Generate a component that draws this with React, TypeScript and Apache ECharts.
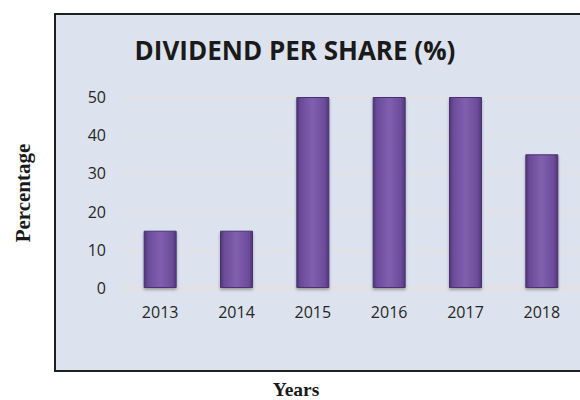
import React, { useEffect, useRef } from "react";
import * as echarts from "echarts";

const years = ["2013", "2014", "2015", "2016", "2017", "2018"];
const dividend = [15, 15, 50, 50, 50, 35];
const yTicks = { min: 0, max: 50, interval: 10 };
const titleText = "DIVIDEND PER SHARE (%)";
const xName = "Years";
const yName = "Percentage";

export default function App() {
  const ref = useRef<HTMLDivElement>(null);
  useEffect(() => {
    if (!ref.current) return;
    const chart = echarts.init(ref.current, null, { renderer: "svg" });
    const barGradient = new echarts.graphic.LinearGradient(0, 0, 1, 0, [
      { offset: 0, color: "#4f3678" },
      { offset: 0.12, color: "#6b4b9a" },
      { offset: 0.5, color: "#8060ae" },
      { offset: 0.88, color: "#6b4b9a" },
      { offset: 1, color: "#4f3678" },
    ]);
    chart.setOption({
      animation: false,
      backgroundColor: "#ffffff",
      graphic: [
        {
          type: "rect",
          z: -10,
          shape: { x: 55, y: 14, width: 540, height: 357 },
          style: { fill: "#dce3ee", stroke: "#1e1e1e", lineWidth: 2 },
        },
        {
          type: "text",
          x: 295,
          y: 50,
          style: {
            text: titleText,
            font: "bold 26px 'Open Sans'",
            fill: "#1a1a1a",
            textAlign: "center",
            textVerticalAlign: "middle",
          },
        },
        {
          type: "text",
          x: 296,
          y: 389,
          style: {
            text: xName,
            font: "bold 19.5px 'Liberation Serif'",
            fill: "#1a1a1a",
            textAlign: "center",
            textVerticalAlign: "middle",
          },
        },
        {
          type: "text",
          x: 23,
          y: 193,
          rotation: Math.PI / 2,
          style: {
            text: yName,
            font: "bold 21px 'Liberation Serif'",
            fill: "#1a1a1a",
            textAlign: "center",
            textVerticalAlign: "middle",
          },
        },
      ],
      grid: { left: 122, top: 97, width: 468, height: 191, containLabel: false },
      xAxis: {
        type: "category",
        data: years,
        axisLine: { show: true, lineStyle: { color: "#e8e0d4", width: 2 } },
        axisTick: { show: false },
        axisLabel: {
          color: "#262626",
          fontSize: 16,
          fontFamily: "Open Sans",
          margin: 16,
        },
      },
      yAxis: {
        type: "value",
        min: yTicks.min,
        max: yTicks.max,
        interval: yTicks.interval,
        axisLine: { show: false },
        axisTick: { show: false },
        splitLine: { lineStyle: { color: "#e6e0d6", width: 1 } },
        axisLabel: {
          color: "#262626",
          fontSize: 16,
          fontFamily: "Open Sans",
          margin: 16,
        },
      },
      series: [
        {
          type: "bar",
          data: dividend,
          barWidth: 33,
          itemStyle: {
            color: barGradient,
            borderColor: "#4a3270",
            borderWidth: 1,
            shadowColor: "rgba(0,0,0,0.3)",
            shadowBlur: 3,
            shadowOffsetY: 2,
          },
        },
      ],
    });
    return () => chart.dispose();
  }, []);
  return (
    <div
      ref={ref}
      style={{ position: "absolute", left: 0, top: 0, width: 580, height: 400 }}
    />
  );
}
